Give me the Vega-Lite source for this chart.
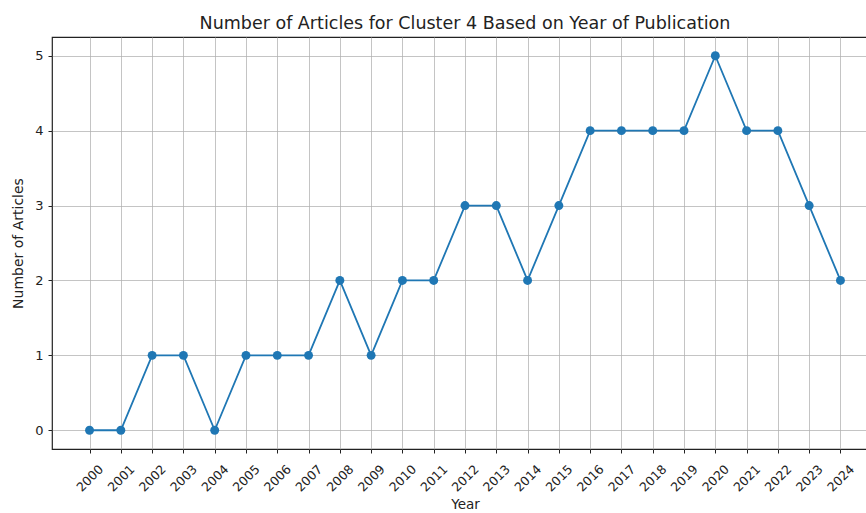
{
  "$schema": "https://vega.github.io/schema/vega-lite/v6.json",
  "autosize": {"type": "none"},
  "padding": {"left": 52, "top": 37, "right": 0, "bottom": 64},
  "width": 826,
  "height": 412,
  "background": "white",
  "config": {
    "font": "DejaVu Sans",
    "view": {"stroke": "#222", "strokeWidth": 1.2}
  },
  "title": {
    "text": "Number of Articles for Cluster 4 Based on Year of Publication",
    "font": "DejaVu Sans",
    "fontSize": 17.5,
    "fontWeight": "normal",
    "color": "#222",
    "anchor": "middle",
    "offset": 5
  },
  "data": {
    "values": [
      {"Year": 2000, "Count": 0},
      {"Year": 2001, "Count": 0},
      {"Year": 2002, "Count": 1},
      {"Year": 2003, "Count": 1},
      {"Year": 2004, "Count": 0},
      {"Year": 2005, "Count": 1},
      {"Year": 2006, "Count": 1},
      {"Year": 2007, "Count": 1},
      {"Year": 2008, "Count": 2},
      {"Year": 2009, "Count": 1},
      {"Year": 2010, "Count": 2},
      {"Year": 2011, "Count": 2},
      {"Year": 2012, "Count": 3},
      {"Year": 2013, "Count": 3},
      {"Year": 2014, "Count": 2},
      {"Year": 2015, "Count": 3},
      {"Year": 2016, "Count": 4},
      {"Year": 2017, "Count": 4},
      {"Year": 2018, "Count": 4},
      {"Year": 2019, "Count": 4},
      {"Year": 2020, "Count": 5},
      {"Year": 2021, "Count": 4},
      {"Year": 2022, "Count": 4},
      {"Year": 2023, "Count": 3},
      {"Year": 2024, "Count": 2}
    ]
  },
  "encoding": {
    "x": {
      "field": "Year",
      "type": "quantitative",
      "scale": {"domain": [1998.8, 2025.2], "nice": false, "zero": false},
      "axis": {
        "title": "Year",
        "titleFont": "DejaVu Sans",
        "titleFontSize": 13.5,
        "titleFontWeight": "normal",
        "titleColor": "#222",
        "titlePadding": 4,
        "values": [2000,2001,2002,2003,2004,2005,2006,2007,2008,2009,2010,2011,2012,2013,2014,2015,2016,2017,2018,2019,2020,2021,2022,2023,2024],
        "format": "d",
        "labelAngle": -45,
        "labelAlign": "center",
        "labelBaseline": "middle",
        "labelPadding": 25,
        "labelFontSize": 12.5,
        "labelColor": "#222",
        "labelFlush": false,
        "labelOverlap": false,
        "tickColor": "#222",
        "tickSize": 4,
        "domain": false,
        "grid": true,
        "gridColor": "#b0b0b0",
        "gridOpacity": 0.75,
        "gridWidth": 1
      }
    },
    "y": {
      "field": "Count",
      "type": "quantitative",
      "scale": {"domain": [-0.25, 5.25], "nice": false, "zero": false},
      "axis": {
        "title": "Number of Articles",
        "titleFont": "DejaVu Sans",
        "titleFontSize": 14,
        "titleFontWeight": "normal",
        "titleColor": "#222",
        "titlePadding": 9,
        "values": [0, 1, 2, 3, 4, 5],
        "format": "d",
        "labelFontSize": 13,
        "labelColor": "#222",
        "labelPadding": 5,
        "tickColor": "#222",
        "tickSize": 4,
        "domain": false,
        "grid": true,
        "gridColor": "#b0b0b0",
        "gridOpacity": 0.75,
        "gridWidth": 1
      }
    }
  },
  "layer": [
    {"mark": {"type": "line", "color": "#1f77b4", "strokeWidth": 1.8}},
    {"mark": {"type": "point", "filled": true, "color": "#1f77b4", "opacity": 1, "size": 80, "shape": "circle"}}
  ]
}
